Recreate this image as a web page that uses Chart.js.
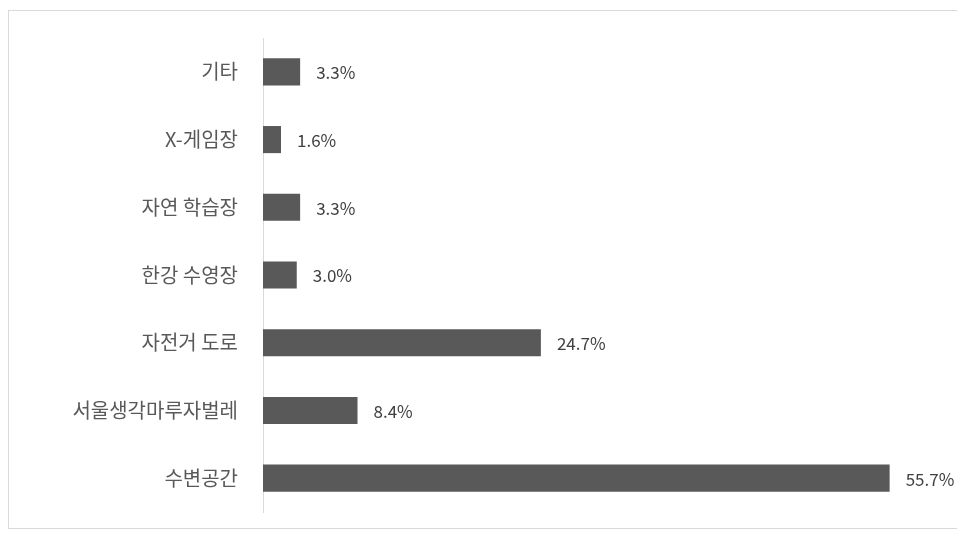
<!DOCTYPE html>
<html>
<head>
<meta charset="utf-8">
<script src="https://cdn.jsdelivr.net/npm/chart.js@4"></script>
<style>
  html, body { margin: 0; padding: 0; background: #fff; }
  canvas { display: block; }
</style>
</head>
<body>
<canvas id="barchart" width="957" height="533"></canvas>
<script>
  /* data */
  var categories = ["기타", "X-게임장", "자연 학습장", "한강 수영장", "자전거 도로", "서울생각마루자벌레", "수변공간"];
  var shares = [3.3, 1.6, 3.3, 3.0, 24.7, 8.4, 55.7];

  var fontFamily = "'Noto Sans CJK KR', 'Noto Sans', sans-serif";

  /* outer frame + value labels */
  var framePlugin = {
    id: "frame",
    beforeDraw: function (chart) {
      var ctx = chart.ctx;
      ctx.save();
      ctx.strokeStyle = "#d9d9d9";
      ctx.lineWidth = 1;
      ctx.strokeRect(8.5, 10.5, 960, 518);
      ctx.restore();
    }
  };

  var valueLabels = {
    id: "valueLabels",
    afterDatasetsDraw: function (chart) {
      var ctx = chart.ctx;
      var meta = chart.getDatasetMeta(0);
      ctx.save();
      ctx.font = "17px " + fontFamily;
      ctx.fillStyle = "#404040";
      ctx.textAlign = "left";
      ctx.textBaseline = "middle";
      meta.data.forEach(function (bar, i) {
        ctx.fillText(shares[i].toFixed(1) + "%", bar.x + 16, bar.y + 1);
      });
      ctx.restore();
    }
  };

  new Chart("barchart", {
    type: "bar",
    data: {
      labels: categories,
      datasets: [{
        data: shares,
        backgroundColor: "#595959",
        barPercentage: 0.4,
        categoryPercentage: 1
      }]
    },
    options: {
      indexAxis: "y",
      responsive: false,
      animation: false,
      layout: { padding: { top: 38, bottom: 21, right: 19, left: 0 } },
      plugins: {
        legend: { display: false },
        tooltip: { enabled: false }
      },
      scales: {
        x: {
          display: false,
          min: 0,
          max: 60
        },
        y: {
          afterFit: function (scale) {
            scale.width = 263;
            scale.paddingTop = 0;
            scale.paddingBottom = 0;
          },
          grid: { display: true, drawOnChartArea: false, drawTicks: false },
          border: { display: true, color: "#d9d9d9", width: 1 },
          ticks: {
            padding: 25,
            color: "#595959",
            font: { family: fontFamily, size: 20 }
          }
        }
      }
    },
    plugins: [framePlugin, valueLabels]
  });
</script>
</body>
</html>
